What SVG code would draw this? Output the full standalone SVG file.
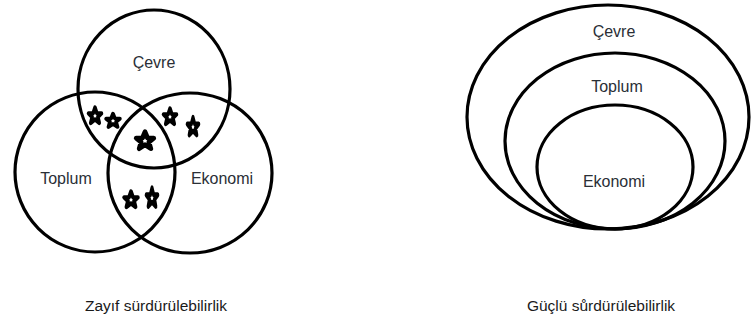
<svg xmlns="http://www.w3.org/2000/svg" xmlns:xlink="http://www.w3.org/1999/xlink" width="752" height="323" viewBox="0 0 752 323">
<style>
.c{fill:none;stroke:#000;stroke-width:3.2}
.t{font-family:"Liberation Sans",Arial,sans-serif;font-size:16px;fill:#2a2f36;text-anchor:middle}
.cap{font-family:"Liberation Sans",Arial,sans-serif;font-size:15.5px;fill:#1a1a1a;text-anchor:middle}
.s{fill:#fff;stroke:#000;stroke-width:4.2;stroke-linejoin:round}
</style>
<defs>
<polygon id="star" points="0,-8 2.2,-2.6 7.6,-2.5 3.4,1 5,6.6 0,3.3 -5,6.6 -3.4,1 -7.6,-2.5 -2.2,-2.6"/>
</defs>
<rect width="752" height="323" fill="#fff"/>
<g id="weak">
<g id="cevre-w"><ellipse class="c" cx="154" cy="89" rx="76" ry="79"/><text class="t" x="154" y="68">Çevre</text></g>
<g id="toplum-w"><ellipse class="c" cx="95" cy="172" rx="80" ry="80"/><text class="t" x="66" y="184">Toplum</text></g>
<g id="ekonomi-w"><ellipse class="c" cx="190" cy="173" rx="82" ry="80"/><text class="t" x="222" y="184">Ekonomi</text></g>
<g id="stars">
<use xlink:href="#star" class="s" transform="translate(95,116) scale(0.85,1.05)"/>
<use xlink:href="#star" class="s" transform="translate(113,121) scale(0.9)"/>
<use xlink:href="#star" class="s" transform="translate(170,117) scale(0.85,1.05)"/>
<use xlink:href="#star" class="s" transform="translate(193,127) scale(0.75,1.2)"/>
<use xlink:href="#star" class="s" transform="translate(145,141) scale(1.15)"/>
<use xlink:href="#star" class="s" transform="translate(131,200) scale(0.9,1.05)"/>
<use xlink:href="#star" class="s" transform="translate(152,198) scale(0.75,1.25)"/>
</g>
<text class="cap" x="156" y="311">Zayıf sürdürülebilirlik</text>
</g>
<g id="strong">
<g id="cevre-s"><ellipse class="c" cx="608" cy="117" rx="141" ry="112"/><text class="t" x="614" y="37">Çevre</text></g>
<g id="toplum-s"><ellipse class="c" cx="615" cy="141" rx="110" ry="88"/><text class="t" x="617" y="92">Toplum</text></g>
<g id="ekonomi-s"><ellipse class="c" cx="615" cy="167" rx="78" ry="62"/><text class="t" x="614" y="187">Ekonomi</text></g>
<text class="cap" x="601" y="311">Güçlü sůrdürülebilirlik</text>
</g>
</svg>
